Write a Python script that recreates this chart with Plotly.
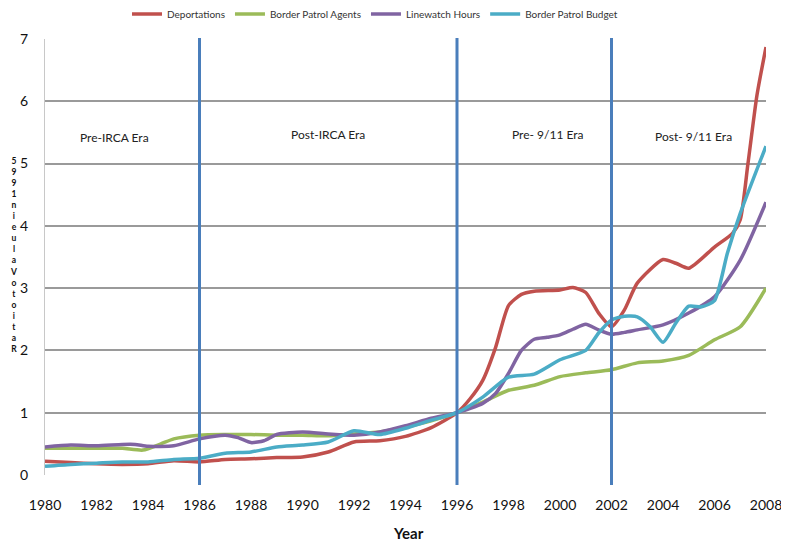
import plotly.graph_objects as go

# ---------------- data ----------------
dep_x = [1980, 1981, 1982, 1983, 1984, 1985, 1986, 1987, 1988, 1989, 1990, 1991, 1992, 1993, 1994, 1995,
         1996, 1996.5, 1997, 1997.5, 1998, 1998.5, 1999, 2000, 2000.5, 2001, 2001.5, 2002, 2002.5, 2003,
         2004, 2004.5, 2005, 2006, 2006.7, 2007, 2007.3, 2007.65, 2008]
dep_y = [0.22, 0.20, 0.18, 0.17, 0.18, 0.23, 0.21, 0.25, 0.26, 0.28, 0.29, 0.37, 0.53, 0.55, 0.62, 0.76,
         1.0, 1.22, 1.52, 2.05, 2.72, 2.90, 2.95, 2.97, 3.01, 2.93, 2.60, 2.38, 2.65, 3.08,
         3.46, 3.40, 3.32, 3.66, 3.88, 4.10, 5.00, 6.10, 6.87]

agt_x = [1980, 1981, 1982, 1983, 1983.8, 1984.5, 1985, 1986, 1987, 1988, 1989, 1990, 1991, 1992, 1993,
         1994, 1995, 1996, 1997, 1998, 1999, 2000, 2001, 2002, 2003, 2004, 2005, 2006, 2007, 2008]
agt_y = [0.43, 0.43, 0.43, 0.43, 0.40, 0.50, 0.58, 0.64, 0.65, 0.65, 0.64, 0.64, 0.63, 0.66, 0.69,
         0.77, 0.87, 1.0, 1.17, 1.36, 1.44, 1.58, 1.64, 1.69, 1.80, 1.83, 1.92, 2.17, 2.38, 3.0]

lw_x = [1980, 1981, 1982, 1983, 1983.5, 1984, 1985, 1986, 1987, 1987.5, 1988, 1988.5, 1989, 1990, 1991,
        1992, 1993, 1994, 1995, 1996, 1997, 1997.5, 1998, 1998.5, 1999, 1999.5, 2000, 2000.5, 2001,
        2001.5, 2002, 2002.5, 2003, 2004, 2005, 2006, 2007, 2008]
lw_y = [0.45, 0.48, 0.47, 0.49, 0.49, 0.46, 0.47, 0.58, 0.64, 0.60, 0.52, 0.55, 0.65, 0.69, 0.66,
        0.64, 0.69, 0.79, 0.91, 1.0, 1.15, 1.31, 1.63, 2.0, 2.18, 2.21, 2.25, 2.34, 2.42,
        2.33, 2.26, 2.29, 2.33, 2.41, 2.60, 2.86, 3.45, 4.38]

bud_x = [1980, 1981, 1982, 1983, 1984, 1985, 1986, 1987, 1988, 1989, 1990, 1991, 1992, 1993, 1994, 1995,
         1996, 1997, 1998, 1999, 2000, 2001, 2001.5, 2002, 2002.5, 2003, 2003.5, 2004, 2004.5, 2005,
         2005.5, 2006, 2006.5, 2007, 2008]
bud_y = [0.14, 0.17, 0.19, 0.21, 0.21, 0.25, 0.27, 0.35, 0.37, 0.45, 0.48, 0.53, 0.71, 0.65, 0.75, 0.88,
         1.0, 1.25, 1.57, 1.62, 1.85, 2.0, 2.28, 2.49, 2.55, 2.54, 2.38, 2.13, 2.44, 2.71,
         2.70, 2.80, 3.56, 4.20, 5.28]

series_names = ["Deportations", "Border Patrol Agents", "Linewatch Hours", "Border Patrol Budget"]
series_colors = ["#c0504d", "#9bbb59", "#8064a2", "#4bacc6"]

era_lines = [1986, 1996, 2002]
era_labels = ["Pre-IRCA Era", "Post-IRCA Era", "Pre- 9/11 Era", "Post- 9/11 Era"]
era_label_x = [1982.7, 1991.0, 1999.5, 2005.2]
era_label_y = [5.42, 5.47, 5.47, 5.44]

x_ticks = list(range(1980, 2009, 2))
y_ticks = list(range(0, 8))
y_title = "Ratio to Value in 1995"
x_title = "Year"

# ---------------- figure ----------------
# the page body adds an 8px offset, so the figure is 8px smaller and all
# page-pixel positions below are shifted by that offset
OFF = 8
W, H = 789 - OFF, 548 - OFF
ML, MR, MT, MB = 45 - OFF, 23, 39 - OFF, 73
PW = W - ML - MR
PH = H - MT - MB
BOTTOM = H - MB + OFF          # page y of plot bottom


def py2paper(py):
    return (BOTTOM - py) / PH


def px2paper(px):
    return (px - (ML + OFF)) / PW


fig = go.Figure()
for xs, ys, name, col in zip([dep_x, agt_x, lw_x, bud_x], [dep_y, agt_y, lw_y, bud_y],
                             series_names, series_colors):
    fig.add_trace(go.Scatter(x=xs, y=ys, name=name, mode="lines",
                             line=dict(color=col, width=3.5, shape="spline", smoothing=0.6)))

for xv in era_lines:
    fig.add_shape(type="line", xref="x", yref="paper", x0=xv, x1=xv,
                  y0=py2paper(485), y1=py2paper(38), line=dict(color="#4a7ebb", width=3),
                  layer="above")

for t, xv, yv in zip(era_labels, era_label_x, era_label_y):
    fig.add_annotation(x=xv, y=yv, xref="x", yref="y", text=t, showarrow=False,
                       font=dict(family="Lato, Open Sans, sans-serif", size=12, color="#222"))

# stacked y-axis title: characters stacked upright, read bottom to top
stack = "<br>".join(ch for ch in reversed(y_title) if ch != " ")
fig.add_annotation(xref="paper", yref="paper", x=px2paper(13), y=py2paper(255),
                   text=stack, showarrow=False, xanchor="center", yanchor="middle",
                   align="center",
                   font=dict(family="Lato, DejaVu Sans, sans-serif", size=8.5, color="#111",
                             weight="bold"))

# x-axis title
fig.add_annotation(xref="paper", yref="paper", x=px2paper(408), y=py2paper(533),
                   text="<b>" + x_title + "</b>",
                   showarrow=False, xanchor="center", yanchor="middle",
                   font=dict(family="Lato, Open Sans, sans-serif", size=15, color="#111"))

fig.update_layout(
    width=W, height=H, margin=dict(l=ML, r=MR, t=MT, b=MB, autoexpand=False),
    paper_bgcolor="white", plot_bgcolor="white",
    font=dict(family="Lato, Open Sans, sans-serif", color="#111"),
    showlegend=True,
    legend=dict(orientation="h", x=px2paper(375), xanchor="center", y=py2paper(14), yanchor="middle",
                font=dict(size=10, color="#333"), bgcolor="rgba(0,0,0,0)", itemwidth=30,
                tracegroupgap=0),
    xaxis=dict(range=[1980, 2008], tickvals=x_ticks, ticktext=[str(v) for v in x_ticks],
               showgrid=False, zeroline=False, showline=False, ticks="",
               tickfont=dict(size=14, color="#111"), ticklabelstandoff=20, automargin=False),
    yaxis=dict(range=[0, 7], tickvals=y_ticks, showgrid=True, gridcolor="#9a9a9a", gridwidth=1.5,
               zeroline=False, showline=True, linecolor="#c8c8c8", linewidth=1, ticks="",
               tickfont=dict(size=14, color="#111"), ticklabelstandoff=13, automargin=False),
)

fig.write_html("out.html")
